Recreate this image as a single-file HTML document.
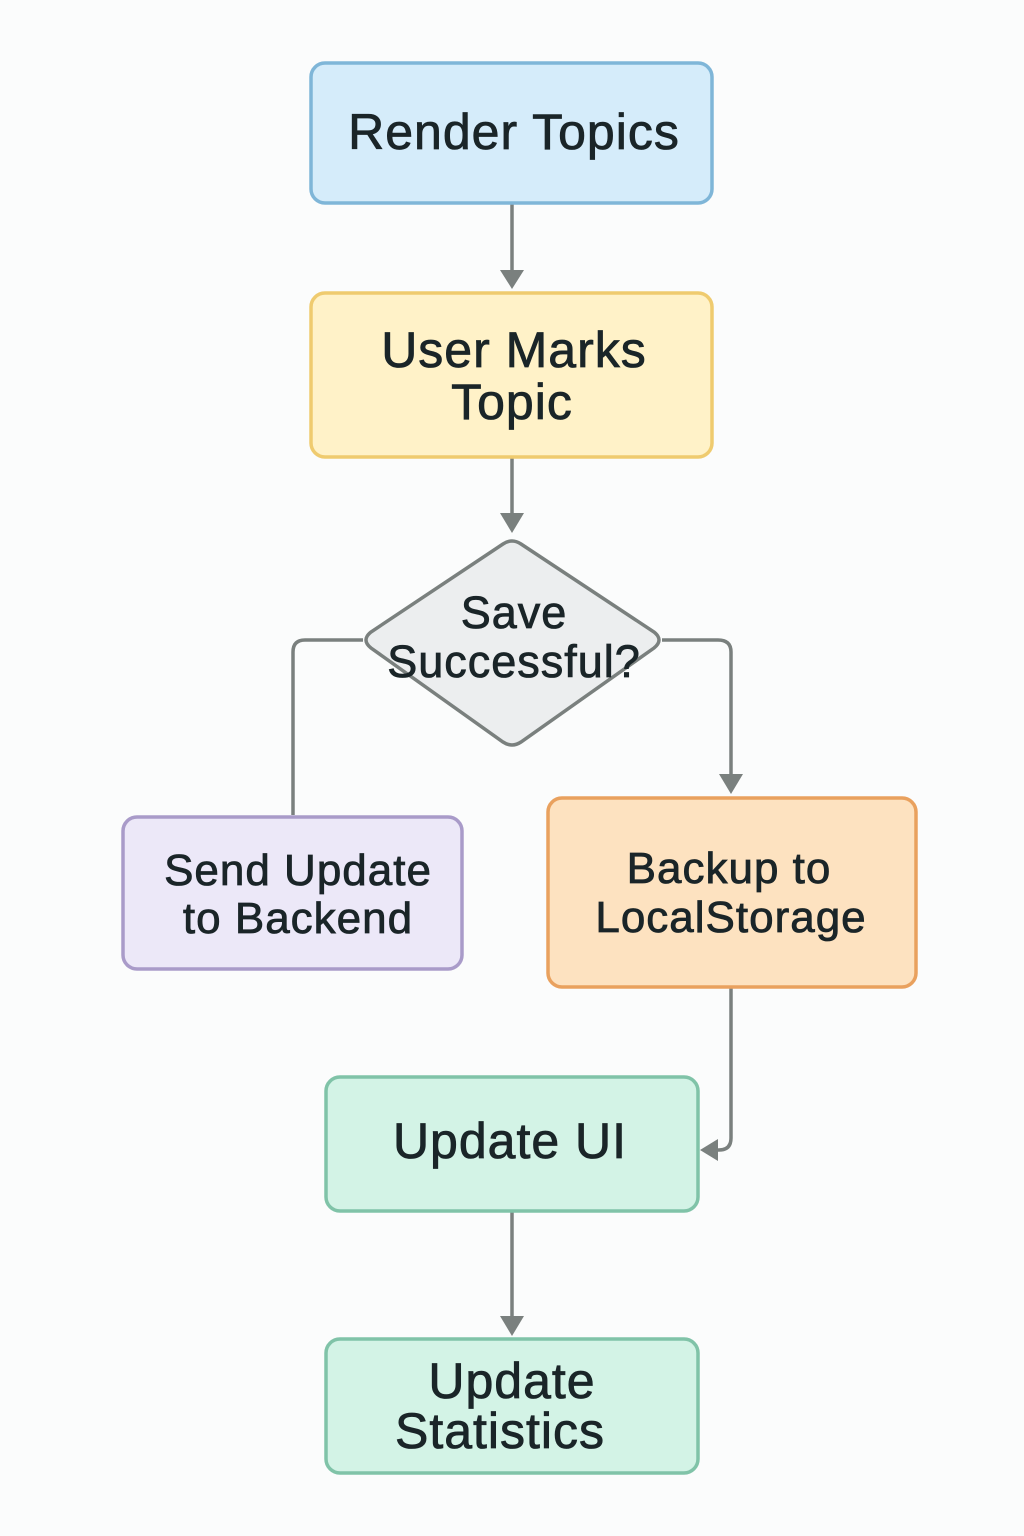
<!DOCTYPE html>
<html><head><meta charset="utf-8"><style>body{margin:0;background:#fbfcfc}svg{display:block}</style></head><body>
<svg width="1024" height="1536" viewBox="0 0 1024 1536" xmlns="http://www.w3.org/2000/svg" font-family="Liberation Sans, sans-serif" fill="#1a2528">
<rect width="1024" height="1536" fill="#fbfcfc"/>
<g stroke="#7a807e" stroke-width="3.5" fill="none">
<line x1="512" y1="204" x2="512" y2="272"/>
<line x1="512" y1="458" x2="512" y2="515"/>
<path d="M363 640 H305 Q293 640 293 652 V815"/>
<path d="M662 640 H718 Q731 640 731 652 V775"/>
<path d="M731 988 V1138 Q731 1150 719 1150 H718"/>
<line x1="512" y1="1212" x2="512" y2="1318"/>
</g>
<g fill="#7a807e">
<polygon points="500,270 524,270 512,289"/>
<polygon points="500,513 524,513 512,533"/>
<polygon points="719,774 743,774 731,794"/>
<polygon points="718,1139 718,1161 700,1150"/>
<polygon points="500,1316 524,1316 512,1336"/>
</g>
<g stroke-width="3.5">
<rect x="311" y="63" width="401" height="140" rx="14" fill="#d5ecfa" stroke="#7fb6d8"/>
<rect x="311" y="293" width="401" height="164" rx="14" fill="#fff2c8" stroke="#efcb6f"/>
<path d="M503 544 Q512 538 521 544 L654 632 Q664 640 654 648 L521 742 Q512 748 503 742 L371 648 Q361 640 371 632 Z" fill="#eceeef" stroke="#7a807e"/>
<rect x="123" y="817" width="339" height="152" rx="14" fill="#ece8f8" stroke="#a99bc9"/>
<rect x="548" y="798" width="368" height="189" rx="14" fill="#fde2c0" stroke="#e9a15e"/>
<rect x="326" y="1077" width="372" height="134" rx="14" fill="#d3f3e6" stroke="#80c3a8"/>
<rect x="326" y="1339" width="372" height="134" rx="14" fill="#d3f3e6" stroke="#80c3a8"/>
</g>
<g text-anchor="middle" font-size="50" stroke="#1a2528" stroke-width="0.8" letter-spacing="1">
<text x="514" y="149">Render Topics</text>
<text x="514" y="367">User Marks</text>
<text x="512" y="419">Topic</text>
<text x="514" y="628" font-size="45">Save</text>
<text x="514" y="677" font-size="45">Successful?</text>
<text x="298" y="885" font-size="44">Send Update</text>
<text x="298" y="933" font-size="44">to Backend</text>
<text x="729" y="883" font-size="44">Backup to</text>
<text x="731" y="932" font-size="44">LocalStorage</text>
<text x="510" y="1158">Update UI</text>
<text x="512" y="1398">Update</text>
<text x="500" y="1448">Statistics</text>
</g>
</svg>
</body></html>
